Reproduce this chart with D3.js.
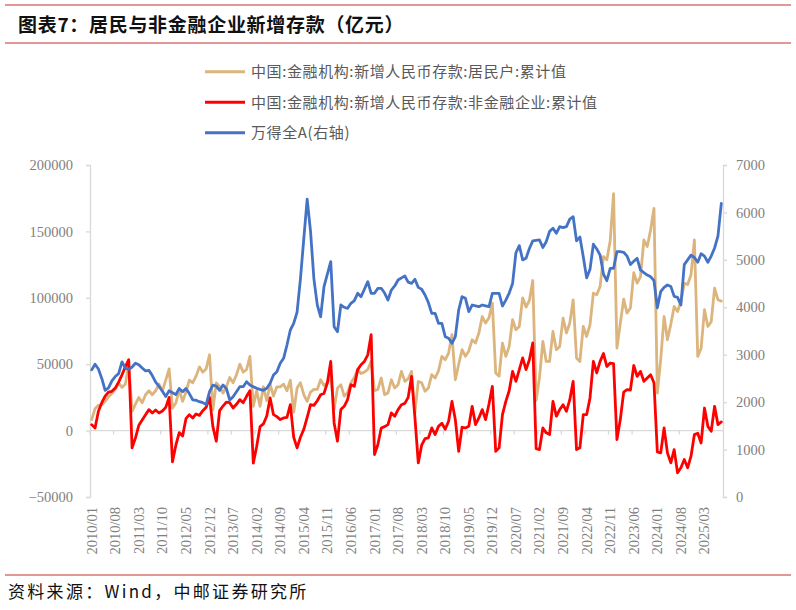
<!DOCTYPE html>
<html>
<head>
<meta charset="utf-8">
<script src="https://cdn.jsdelivr.net/npm/d3@7"></script>
<style>
  body { margin: 0; background: #fff; }
  svg { display: block; }
  .tick-label { font-family: "Liberation Serif", "DejaVu Serif", serif; font-size: 14.5px; fill: #7f7f7f; }
  .legend-text { font-family: "Noto Sans CJK SC", sans-serif; font-size: 15px; fill: #595959; letter-spacing: 0.6px; }
</style>
</head>
<body>
<svg id="chart" width="796" height="610"></svg>
<script>
// months 2010/01 .. 2025/08
var categories = [];
for (var yr = 2010; yr <= 2025; yr++) {
  for (var mo = 1; mo <= 12; mo++) {
    if (yr === 2025 && mo > 8) break;
    categories.push(yr + "/" + (mo < 10 ? "0" + mo : mo));
  }
}

var xTickLabels = ["2010/01","2010/08","2011/03","2011/10","2012/05","2012/12","2013/07",
  "2014/02","2014/09","2015/04","2015/11","2016/06","2017/01","2017/08","2018/03",
  "2018/10","2019/05","2019/12","2020/07","2021/02","2021/09","2022/04","2022/11",
  "2023/06","2024/01","2024/08","2025/03"];

var leftTicks = [-50000, 0, 50000, 100000, 150000, 200000];
var rightTicks = [0, 1000, 2000, 3000, 4000, 5000, 6000, 7000];

// 中国:金融机构:新增人民币存款:居民户:累计值 (亿元)
var household = [
  8300, 16500, 19000, 19500, 22000, 25500, 28000, 31000, 36000, 32500, 35000, 50000,
  14500, 20000, 25000, 21000, 27000, 30000, 27000, 30000, 35000, 30000, 38000, 46500,
  17000, 20800, 30800, 22000, 29000, 38000, 36000, 41000, 48000, 44000, 46500, 57100,
  15800, 36000, 33000, 28300, 33000, 40000, 36000, 42000, 50000, 44000, 46000, 55900,
  18300, 30000, 18300, 33000, 22500, 35000, 26000, 33000, 33000, 35000, 30000, 38000,
  14000, 32000, 36000, 27000, 22000, 29000, 31000, 31000, 38300, 34000, 36000, 41000,
  15800, 32000, 34600, 26000, 28500, 36000, 40000, 45900, 43000, 44000, 46000, 52100,
  30000, 31000, 39600, 27100, 28300, 38300, 32100, 34600, 44600, 37100, 39000, 44600,
  13300, 37000, 36000, 29600, 32100, 42100, 39600, 45000, 55900, 53400, 58400, 72200,
  38300, 50000, 60900, 55900, 60000, 68400, 66000, 73500, 85900, 81000, 85000, 96000,
  43400, 41000, 65900, 55900, 63400, 83500, 75900, 78400, 100000, 93000, 98000, 113000,
  22600, 40000, 67100, 52100, 52100, 74700, 60900, 63400, 84700, 73500, 81000, 98500,
  54700, 52100, 78400, 70900, 79700, 103500, 102300, 108500, 131000, 128600, 143000, 178400,
  62200, 80700, 99000, 88500, 92300, 119000, 111000, 116000, 143600, 138600, 151100, 167400,
  28300, 53400, 85900, 68400, 80000, 93500, 89700, 97000, 111000, 110000, 117300, 143600,
  55900, 62000, 91000, 78400, 82000, 107300, 98500, 97500
];

// 中国:金融机构:新增人民币存款:非金融企业:累计值 (亿元)
var enterprise = [
  4500, 2000, 14500, 21000, 26000, 29000, 29600, 32000, 36500, 42000, 48000, 53400,
  -13000, -5500, 4000, 8000, 12000, 15800, 13300, 15500, 13300, 14800, 17500, 25000,
  -23500, -11000, -1500, -4000, 9000, 12000, 9500, 12500, 11500, 15000, 17500, 25000,
  3000, -8000, 15000, 18500, 21500, 21000, 17000, 19800, 23300, 21000, 25800, 30000,
  -24500, -12000, 3000, 5000, 11000, 24600, 12000, 10500, 8300, 9500, 10000, 19500,
  -5000, -13000, -5000, 1000, 10000, 19500, 19000, 22500, 27000, 28000, 36000, 52100,
  5800, -8000, 15800, 18300, 23300, 34600, 33300, 45900, 49600, 52100, 57100, 72200,
  -18000, -10500, 2000, 3000, 4500, 13300, 10800, 15800, 19500, 20500, 25000, 40800,
  10000, -24300, -11000, -6000, -5500, 2000, -3000, 3200, 5500, 1000, 7000, 22000,
  8300, -15600, 2500, 2000, 3200, 18300, 4500, 9500, 15800, 8300, 20000, 33300,
  -15600, -13000, 12000, 22000, 30000, 44600, 37100, 46000, 54700, 45900, 53400, 66000,
  -13600, -14300, 2000, -1700, -3000, 22000, 10800, 15800, 19500, 14500, 23300, 37100,
  -14300, -13000, 12000, 12000, 24600, 52100, 43400, 52100, 58000, 48300, 50900, 50400,
  -6800, 8300, 29000, 30800, 30500, 49000, 40800, 44600, 37100, 39600, 42100, 36000,
  -16000, -16800, 2000, -16800, -24300, -14300, -31800, -28000, -21800, -28000, -19300, -3000,
  -2000, -9300, 17000, 3200, -500, 18300, 4500, 6500
];

// 万得全A (右轴)
var windA = [
  2680, 2800, 2700, 2500, 2250, 2300, 2450, 2540, 2600, 2850, 2720, 2690,
  2740, 2820, 2790, 2720, 2660, 2670, 2560, 2420, 2330, 2230, 2120, 2240,
  2200, 2160, 2290, 2220, 2290, 2180, 2050, 2040, 2010, 1990, 1950, 2220,
  2360, 2340, 2250, 2360, 2290, 2045, 2115, 2220, 2326, 2326, 2431, 2361,
  2326, 2292, 2270, 2250, 2292, 2397, 2572, 2642, 2819, 2924, 3205, 3521,
  3660, 3900, 4600, 5450, 6280, 5600, 4600, 4050, 3800, 4434, 4700, 4961,
  3591, 3485, 4048, 4000, 3978, 4084, 4140, 4295, 4224, 4380, 4540, 4295,
  4295, 4400, 4400, 4300, 4153, 4364, 4450, 4575, 4620, 4659, 4530, 4505,
  4590, 4420, 4380, 4260, 4100, 3873, 3873, 3662, 3662, 3380, 3346, 3240,
  3380, 3943, 4224, 4189, 3907, 4048, 4030, 4012, 4048, 4030, 4012, 4295,
  4295, 4295, 4027, 4150, 4300, 4500, 5150, 5300, 5000, 5032, 5240, 5400,
  5410, 5419, 5260, 5383, 5600, 5665, 5560, 5700, 5680, 5700, 5860, 5910,
  5400, 5480, 5067, 4620, 4800, 5330, 5230, 5100, 4700, 4560, 4820, 4821,
  5172, 5172, 5160, 5080, 4900, 4970, 5032, 4786, 4730, 4680, 4646, 4560,
  3990, 4330, 4420, 4470, 4440, 4230, 4210, 4050, 4900, 5000, 5100, 5050,
  4950, 5130, 5080, 4950, 5080, 5250, 5500, 6190
];

var seriesNames = ["中国:金融机构:新增人民币存款:居民户:累计值",
  "中国:金融机构:新增人民币存款:非金融企业:累计值",
  "万得全A(右轴)"];
var seriesColors = ["#dcb47e", "#ff0000", "#4472c4"];

/* ---------------- layout ---------------- */
var svg = d3.select("#chart");
var plotLeft = 90, plotRight = 723, plotTop = 165, plotBottom = 497;
var axisColor = "#d9d9d9";

var x = d3.scaleBand().domain(categories).range([plotLeft, plotRight]);
var yL = d3.scaleLinear().domain([-50000, 200000]).range([plotBottom, plotTop]);
var yR = d3.scaleLinear().domain([0, 7000]).range([plotBottom, plotTop]);
var cx = function(i) { return x(categories[i]) + x.bandwidth() / 2; };

// title and frame lines
svg.append("line").attr("x1", 5).attr("x2", 791).attr("y1", 5).attr("y2", 5)
  .attr("stroke", "#d87474").attr("stroke-width", 1.6);
svg.append("line").attr("x1", 5).attr("x2", 791).attr("y1", 43).attr("y2", 43)
  .attr("stroke", "#d87474").attr("stroke-width", 1.6);
svg.append("text").attr("x", 18).attr("y", 32)
  .style("font-family", "'Noto Sans CJK SC', sans-serif").style("font-size", "19px")
  .style("font-weight", "bold").style("letter-spacing", "0.7px").style("fill", "#111")
  .text("图表7：居民与非金融企业新增存款（亿元）");

svg.append("line").attr("x1", 5).attr("x2", 791).attr("y1", 575).attr("y2", 575)
  .attr("stroke", "#d87474").attr("stroke-width", 1.6);
svg.append("text").attr("x", 8).attr("y", 598)
  .style("font-family", "'Noto Sans CJK SC', sans-serif").style("font-size", "17px")
  .style("letter-spacing", "2.3px").style("fill", "#111")
  .text("资料来源：Wind，中邮证券研究所");

/* ---------------- axes ---------------- */
var gL = svg.append("g").attr("transform", "translate(" + plotLeft + ",0)")
  .call(d3.axisLeft(yL).tickValues(leftTicks).tickSize(4).tickPadding(13).tickFormat(d3.format("d")));
var gR = svg.append("g").attr("transform", "translate(" + plotRight + ",0)")
  .call(d3.axisRight(yR).tickValues(rightTicks).tickSize(4).tickPadding(9).tickFormat(d3.format("d")));
[gL, gR].forEach(function(g) {
  g.select(".domain").attr("stroke", axisColor).attr("stroke-width", 1.3);
  g.selectAll(".tick line").attr("stroke", axisColor).attr("stroke-width", 1.3);
  g.selectAll(".tick text").attr("class", "tick-label");
});

// category axis on the zero line, ticks every 7 months on band edges
var gX = svg.append("g");
gX.append("line").attr("x1", plotLeft).attr("x2", plotRight)
  .attr("y1", yL(0)).attr("y2", yL(0)).attr("stroke", axisColor).attr("stroke-width", 1.3);
gX.selectAll(".xtick").data(xTickLabels).enter().append("line")
  .attr("class", "xtick")
  .attr("x1", function(d) { return x(d); }).attr("x2", function(d) { return x(d); })
  .attr("y1", yL(0)).attr("y2", yL(0) + 4)
  .attr("stroke", axisColor).attr("stroke-width", 1.3);
gX.selectAll(".xlabel").data(xTickLabels).enter().append("text")
  .attr("class", "tick-label")
  .attr("text-anchor", "end")
  .attr("transform", function(d) {
    return "translate(" + (x(d) + x.bandwidth() / 2 + 5) + "," + 507 + ") rotate(-90)";
  })
  .text(function(d) { return d; });

/* ---------------- lines ---------------- */
function drawLine(values, scale, color) {
  var line = d3.line()
    .x(function(d, i) { return cx(i); })
    .y(function(d) { return scale(d); });
  svg.append("path").datum(values)
    .attr("d", line)
    .attr("fill", "none")
    .attr("stroke", color)
    .attr("stroke-width", 2.8)
    .attr("stroke-linejoin", "round")
    .attr("stroke-linecap", "round");
}
drawLine(household, yL, seriesColors[0]);
drawLine(enterprise, yL, seriesColors[1]);
drawLine(windA, yR, seriesColors[2]);

/* ---------------- legend ---------------- */
var legend = svg.append("g").selectAll("g").data(seriesNames).enter().append("g")
  .attr("transform", function(d, i) { return "translate(205," + (71.7 + i * 30.5) + ")"; });
legend.append("line").attr("x1", 0).attr("x2", 40).attr("y1", 0).attr("y2", 0)
  .attr("stroke", function(d, i) { return seriesColors[i]; }).attr("stroke-width", 3);
legend.append("text").attr("class", "legend-text").attr("x", 46).attr("y", 5.5)
  .text(function(d) { return d; });
</script>
</body>
</html>
